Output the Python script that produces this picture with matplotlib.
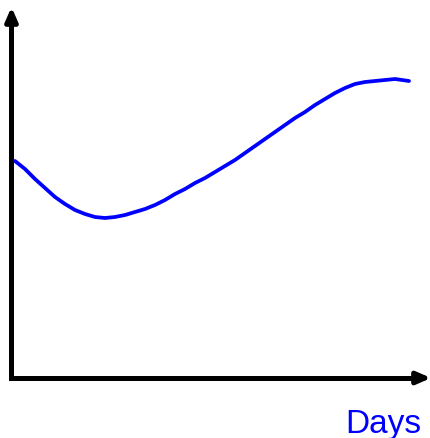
import matplotlib.pyplot as plt

# curve (pixel space, y grows downward)
days = [15, 25, 35, 45, 55, 65, 75, 85, 95, 105, 115, 125, 135, 145, 155,
        165, 175, 185, 195, 205, 215, 225, 235, 245, 255, 265, 275, 285,
        295, 305, 315, 325, 335, 345, 355, 365, 375, 385, 395, 402, 409]
level = [162, 170, 180, 189, 198, 205, 211, 215, 218, 219, 218, 216, 213,
         210, 206, 201, 195, 190, 184, 179, 173, 167, 161, 154, 147, 140,
         133, 126, 119, 113, 106, 100, 94, 89, 85, 83, 82, 81, 80, 81, 82]

fig = plt.figure(figsize=(4.31, 4.39), dpi=100)
ax = fig.add_axes([0, 0, 1, 1])
ax.set_xlim(0, 431)
ax.set_ylim(439, 0)
ax.axis("off")

# axis lines
ax.plot([11.5, 11.5, 415], [18, 379, 379], color="black", lw=3.6,
        solid_joinstyle="miter", solid_capstyle="butt")
# arrowheads
ax.annotate("", xy=(11.5, 8), xytext=(11.5, 22),
            arrowprops=dict(arrowstyle="-|>,head_length=0.8,head_width=0.35",
                            lw=3.6, color="black", shrinkA=0, shrinkB=0))
ax.annotate("", xy=(431, 379), xytext=(417, 379),
            arrowprops=dict(arrowstyle="-|>,head_length=0.8,head_width=0.35",
                            lw=3.6, color="black", shrinkA=0, shrinkB=0))

ax.plot(days, level, color="#0000ff", lw=2.7, solid_capstyle="round")

ax.text(421, 440, "Days", color="#0000ff", fontsize=24,
        family=["Liberation Sans", "DejaVu Sans"], ha="right", va="bottom")

fig.savefig("out.png", dpi=100)
